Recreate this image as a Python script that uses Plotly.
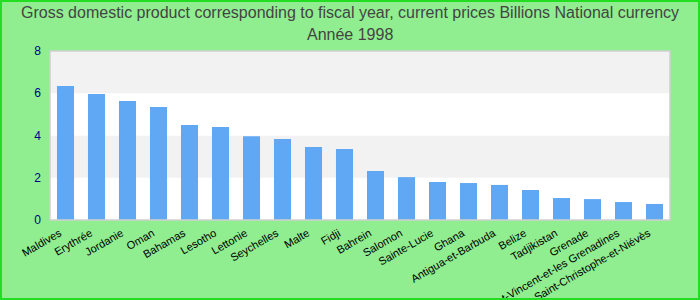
import plotly.graph_objects as go

categories = ["Maldives", "Erythrée", "Jordanie", "Oman", "Bahamas", "Lesotho", "Lettonie",
              "Seychelles", "Malte", "Fidji", "Bahrein", "Salomon", "Sainte-Lucie", "Ghana",
              "Antigua-et-Barbuda", "Belize", "Tadjikistan", "Grenade",
              "Saint-Vincent-et-les Grenadines", "Saint-Christophe-et-Niévès"]
values = [6.34, 5.96, 5.63, 5.35, 4.50, 4.40, 3.97, 3.83, 3.45, 3.36,
          2.32, 2.03, 1.80, 1.75, 1.66, 1.42, 1.04, 0.99, 0.85, 0.76]
y_ticks = [0, 2, 4, 6, 8]
title_lines = ["Gross domestic product corresponding to fiscal year, current prices Billions National currency",
               "Année 1998"]

fig = go.Figure()
fig.add_trace(go.Bar(x=categories, y=values, marker=dict(color="#61a8f4", line=dict(width=0)), width=0.55))

shapes = []
for lo, hi, col in [(0, 2, "white"), (2, 4, "#f2f2f2"), (4, 6, "white"), (6, 8, "#f2f2f2")]:
    shapes.append(dict(type="rect", xref="paper", yref="y", x0=0, x1=1, y0=lo, y1=hi,
                       fillcolor=col, line=dict(width=0), layer="below"))
shapes.append(dict(type="rect", xref="paper", yref="paper", x0=0, x1=1, y0=0, y1=1,
                   line=dict(color="#d0d0d0", width=1.5), fillcolor="rgba(0,0,0,0)"))

PW, PH, L, B = 620, 169, 50, 80
annotations = []
for i, (txt, ypx) in enumerate(zip(title_lines, [13, 35])):
    annotations.append(dict(text=txt, xref="paper", yref="paper",
                            x=(350 - L) / PW, y=(300 - B - ypx) / PH, xanchor="center", yanchor="middle",
                            showarrow=False,
                            font=dict(family="Liberation Sans, Arial", size=16, color="#444444")))

fig.update_layout(
    width=700, height=300,
    paper_bgcolor="#90ee90", plot_bgcolor="white",
    margin=dict(l=50, r=30, t=51, b=80, autoexpand=False),
    showlegend=False,
    shapes=shapes,
    annotations=annotations,
    bargap=0.45,
    font=dict(family="Liberation Sans, Arial, sans-serif"),
    xaxis=dict(tickangle=-30, tickfont=dict(size=11, color="black"), showgrid=False, automargin=False,
               ticks="", showline=False, range=[-0.5, len(categories) - 0.5],
               ticklabelshift=-6, ticklabelstandoff=4),
    yaxis=dict(range=[0, 8], tickvals=y_ticks, tickfont=dict(size=12, color="#00008b"), automargin=False,
               showgrid=False, zeroline=False, showline=False, ticks="", ticklen=0, ticklabelstandoff=8),
)

# outer border
fig.add_shape(type="rect", xref="paper", yref="paper", x0=(1 - L) / PW, x1=1 + 29 / PW,
              y0=(1 - B) / PH, y1=1 + 50 / PH, line=dict(color="#22dd22", width=2), fillcolor="rgba(0,0,0,0)")

fig.write_html("out.html")
